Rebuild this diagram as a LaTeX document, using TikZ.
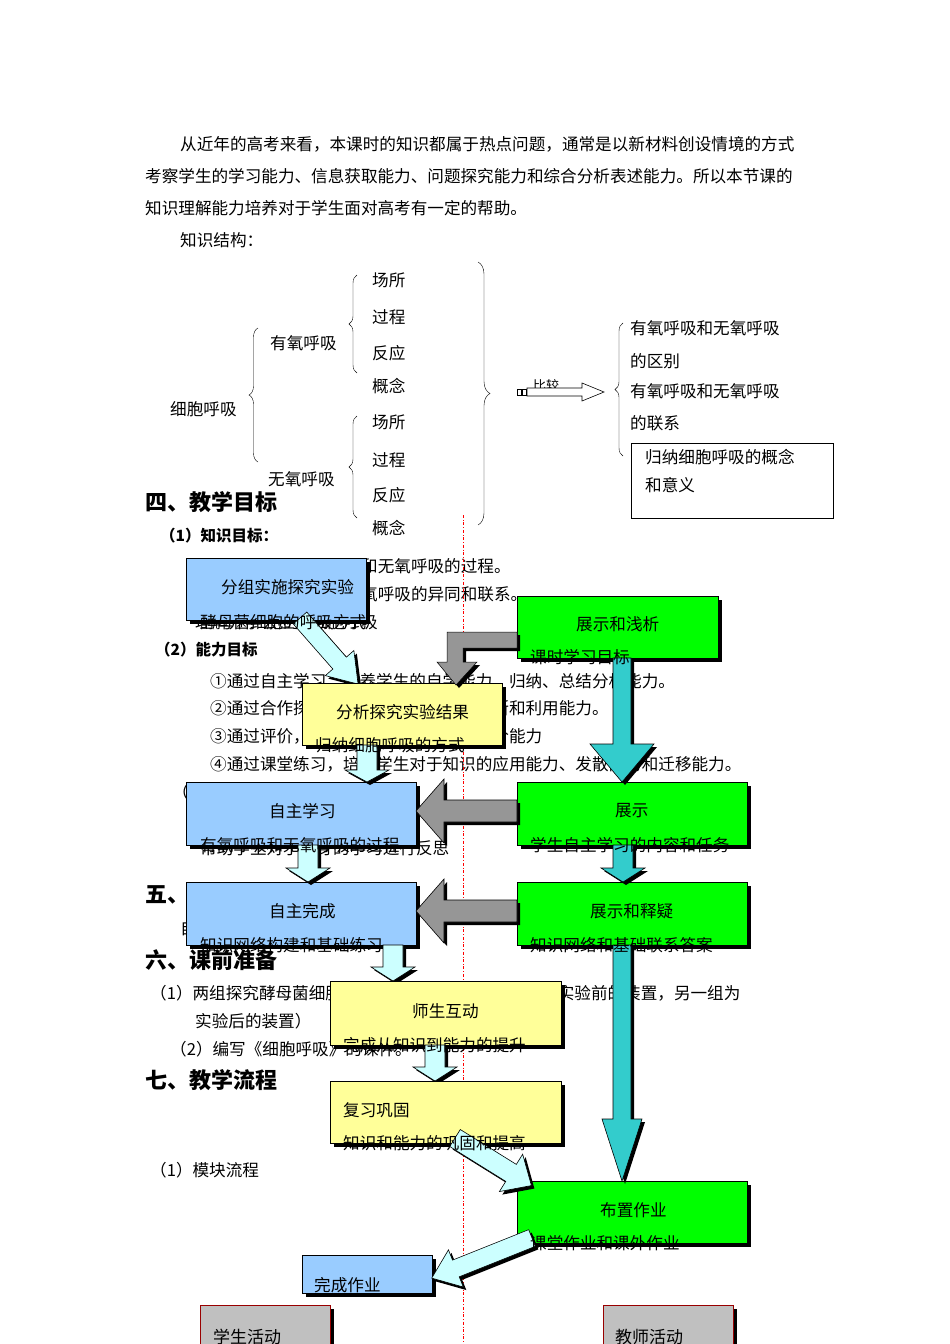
\documentclass[tikz,border=0pt]{standalone}
\usepackage{fontspec}
\setmainfont{Noto Sans CJK SC}
\usetikzlibrary{decorations.pathreplacing}
\definecolor{bblue}{HTML}{99CCFF}
\definecolor{bgreen}{HTML}{00FF00}
\definecolor{byel}{HTML}{FFFF99}
\definecolor{lcyan}{HTML}{CCFFFF}
\definecolor{teal2}{HTML}{33CCCC}
\definecolor{agray}{HTML}{969696}
\definecolor{lgray}{HTML}{C0C0C0}
\newcommand\fatarr[8]{%
\begin{scope}[shift={(#1+3,#2+3)},rotate=#3]
\fill[black] (0,-#5)--(#4-#7,-#5)--(#4-#7,-#6)--(#4,0)--(#4-#7,#6)--(#4-#7,#5)--(0,#5)--cycle;
\end{scope}
\begin{scope}[shift={(#1,#2)},rotate=#3]
\filldraw[fill=#8,draw=black,line width=0.6pt] (0,-#5)--(#4-#7,-#5)--(#4-#7,-#6)--(#4,0)--(#4-#7,#6)--(#4-#7,#5)--(0,#5)--cycle;
\end{scope}}
\newcommand\flowbox[6]{% name,x1,y1,x2,y2,color
\fill[black] (#2+4,#3+4) rectangle (#4+4,#5+4);
\filldraw[fill=#6,draw=black,line width=0.5pt] (#2,#3) rectangle (#4,#5);
\coordinate (#1) at (#2,#3);}
\begin{document}
\begin{tikzpicture}[x=1pt,y=-1pt,
 txt/.style={anchor=west,inner sep=0pt,font=\fontsize{16.6}{19}\selectfont},
 head/.style={anchor=west,inner sep=0pt,font=\fontsize{22}{25}\selectfont\bfseries},
 sub/.style={anchor=west,inner sep=0pt,font=\fontsize{15.5}{18}\selectfont\bfseries}]
\useasboundingbox (0,0) rectangle (950,1344);
\fill[white] (0,0) rectangle (950,1344);
% paragraph
\node[txt] (p1) at (180,144) {从近年的高考来看，本课时的知识都属于热点问题，通常是以新材料创设情境的方式};
\node[txt] (p2) at (145,176) {考察学生的学习能力、信息获取能力、问题探究能力和综合分析表述能力。所以本节课的};
\node[txt] (p3) at (145,208) {知识理解能力培养对于学生面对高考有一定的帮助。};
\node[txt] (p4) at (180,240) {知识结构：};
% tree
\node[txt] (xb) at (170,409) {细胞呼吸};
\draw[decorate,decoration={brace,amplitude=9pt}] (258,462)--(258,328);
\node[txt] (yy) at (270,343) {有氧呼吸};
\node[txt] (wy) at (268,479) {无氧呼吸};
\draw[decorate,decoration={brace,amplitude=8pt}] (357,373)--(357,275);
\draw[decorate,decoration={brace,amplitude=8pt}] (357,518)--(357,416);
\foreach \t/\y in {场所/280,过程/317,反应/353,概念/386,场所/422,过程/460,反应/495,概念/528}
  \node[txt] at (372,\y) {\t};
\draw[decorate,decoration={brace,amplitude=12pt}] (478,262)--(478,525);
\node[txt,font=\fontsize{13}{15}\selectfont] (bj) at (533,386) {比较};
\draw[line width=0.6pt] (517,389) rectangle (521,395) (522,389) rectangle (526,395);
\draw[line width=0.6pt,fill=white] (527,388)--(582,388)--(582,383)--(604,392)--(582,401)--(582,396)--(527,396)--cycle;
\draw[decorate,decoration={brace,amplitude=8pt}] (623,456)--(623,323);
\node[txt] at (630,328) {有氧呼吸和无氧呼吸};
\node[txt] at (630,361) {的区别};
\node[txt] at (630,391) {有氧呼吸和无氧呼吸};
\node[txt] at (630,423) {的联系};
\draw[line width=0.6pt] (631,443) rectangle (833,518);
\node[txt] at (645,457) {归纳细胞呼吸的概念};
\node[txt] at (645,485) {和意义};
% headings & body
\node[head] at (145,502) {四、教学目标};
\node[sub] at (160,536) {（1）知识目标：};
\node[txt] at (195,566) {说出细胞进行有氧呼吸和无氧呼吸的过程。};
\node[txt] at (195,594) {比较细胞有氧呼吸和无氧呼吸的异同和联系。};
\node[txt] at (195,622) {理解并学会应用细胞呼吸};
\node[sub] at (155,650) {（2）能力目标};
\node[txt] at (210,681) {①通过自主学习，培养学生的自学能力、归纳、总结分析能力。};
\node[txt] at (210,708) {②通过合作探究，培养学生的分析、判断和利用能力。};
\node[txt] at (210,736) {③通过评价，培养学生的自我评价和评价能力};
\node[txt] at (210,764) {④通过课堂练习，培养学生对于知识的应用能力、发散能力和迁移能力。};
\node[txt] at (172,792) {（3）};
\node[txt] at (200,848) {帮助学生对于自身的学习进行反思};
\node[head] at (145,895) {五、};
\node[txt] at (180,928) {自主学习、合作探究、评价};
\node[head] at (145,960) {六、课前准备};
\node[txt] at (150,993) {（1）两组探究酵母菌细胞呼吸方式的装置，其中一组为实验前的装置，另一组为};
\node[txt] at (195,1021) {实验后的装置）};
\node[txt] at (170,1049) {（2）编写《细胞呼吸》的课件。};
\node[head] at (145,1080) {七、教学流程};
\node[txt] at (150,1170) {（1）模块流程};
% center line
\draw[red,dash dot,line width=1pt] (463,515)--(463,1344);
% boxes
\flowbox{A}{186}{558}{366}{620}{bblue}
\flowbox{B}{517}{596}{718}{658}{bgreen}
\flowbox{D}{186}{782}{416}{845}{bblue}
\flowbox{E}{517}{782}{747}{845}{bgreen}
\flowbox{F}{186}{882}{416}{945}{bblue}
\flowbox{G}{517}{882}{747}{945}{bgreen}
\flowbox{J}{517}{1181}{747}{1243}{bgreen}
\flowbox{K}{302}{1255}{432}{1293}{bblue}
% arrows
\fatarr{300}{618}{-48.7}{88}{9}{19}{28}{lcyan}
\flowbox{C}{302}{683}{502}{745}{byel}
\fill[black] (520,635)--(450,635)--(450,665)--(440,665)--(459,688)--(480,665)--(466,665)--(466,651)--(520,651)--cycle;
\filldraw[fill=agray,draw=black,line width=0.5pt] (517,632)--(447,632)--(447,662)--(437,662)--(456,685)--(477,662)--(463,662)--(463,648)--(517,648)--cycle;
\fatarr{622}{658}{-90}{124}{9}{32}{38}{teal2}
\fatarr{367}{745}{-90}{37}{10}{22}{12}{lcyan}
\fatarr{517}{811}{180}{101}{11}{32}{28}{agray}
\fatarr{308}{845}{-90}{37}{10}{22}{14}{lcyan}
\fatarr{623}{845}{-90}{37}{10}{22}{14}{teal2}
\fatarr{517}{911}{180}{101}{11}{32}{28}{agray}
\fatarr{393}{945}{-90}{36}{10}{22}{14}{lcyan}
\fatarr{622}{945}{-90}{236}{9}{20}{62}{teal2}
\flowbox{H}{330}{981}{561}{1045}{byel}
\fatarr{435}{1045}{-90}{36}{10}{22}{14}{lcyan}
\flowbox{I}{330}{1081}{561}{1143}{byel}
\fatarr{455}{1138}{-31.9}{90}{10}{22}{24}{lcyan}
\fatarr{532}{1238}{-158.2}{108}{9}{20}{26}{lcyan}
% box texts
\node[txt] at (221,587) {分组实施探究实验};
\node[txt] at (200,622) {酵母菌细胞的呼吸方式};
\node[txt] at (576,624) {展示和浅析};
\node[txt] at (530,657) {课时学习目标};
\node[txt] at (336,712) {分析探究实验结果};
\node[txt] at (315,745) {归纳细胞呼吸的方式};
\node[txt] at (269,811) {自主学习};
\node[txt] at (200,845) {有氧呼吸和无氧呼吸的过程};
\node[txt] at (615,811) {展示};
\node[txt] at (530,845) {学生自主学习的内容和任务};
\node[txt] at (269,911) {自主完成};
\node[txt] at (200,945) {知识网络构建和基础练习};
\node[txt] at (590,911) {展示和释疑};
\node[txt] at (530,945) {知识网络和基础联系答案};
\node[txt] at (412,1011) {师生互动};
\node[txt] at (343,1045) {完成从知识到能力的提升};
\node[txt] at (343,1110) {复习巩固};
\node[txt] at (343,1143) {知识和能力的巩固和提高};
\node[txt] at (600,1210) {布置作业};
\node[txt] at (530,1243) {课堂作业和课外作业};
\node[txt] at (314,1285) {完成作业};
% activity labels
\fill[black] (204,1309) rectangle (334,1350);
\filldraw[fill=lgray,draw=red!60!black,line width=0.6pt] (200,1305) rectangle (330,1350);
\node[txt,font=\fontsize{17}{20}\selectfont] at (213,1337) {学生活动};
\fill[black] (607,1309) rectangle (737,1350);
\filldraw[fill=lgray,draw=red!60!black,line width=0.6pt] (603,1305) rectangle (733,1350);
\node[txt,font=\fontsize{17}{20}\selectfont] at (615,1337) {教师活动};
\end{tikzpicture}
\end{document}
